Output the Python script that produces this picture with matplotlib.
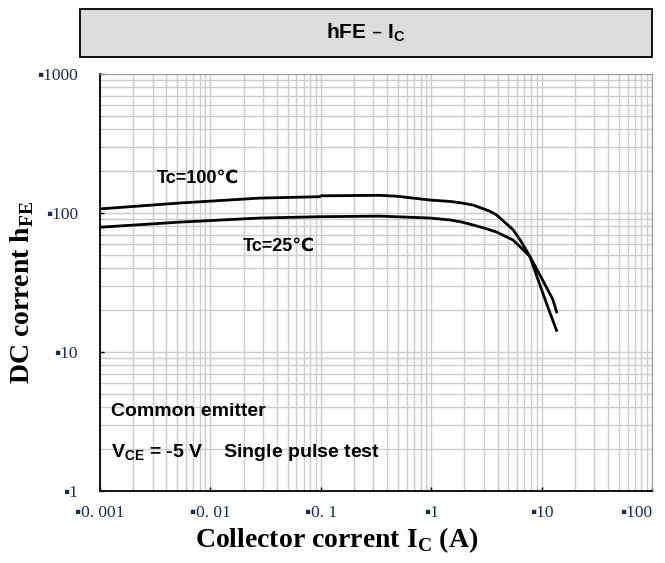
import matplotlib
matplotlib.use("Agg")
import matplotlib.pyplot as plt
from matplotlib.patches import Rectangle
from matplotlib.ticker import FixedLocator, LogLocator, NullFormatter

# data
ic_100 = [0.001, 0.0053, 0.028, 0.098, 0.1, 0.34, 0.49, 0.97, 1.5, 1.9, 2.4, 2.8, 3.4, 3.9, 4.4, 5.5, 6.4, 7.8, 9.3, 11.4, 13.8]
hfe_100 = [107, 118, 128, 131, 133, 134, 132, 124, 121, 118, 114, 109, 103, 97, 89, 76, 64, 49, 33, 21, 14]

ic_25 = [0.001, 0.0053, 0.028, 0.098, 0.34, 0.97, 1.5, 1.9, 2.4, 3.0, 3.9, 5.5, 6.4, 7.8, 10.2, 12.6, 13.8]
hfe_25 = [79, 86, 92, 94, 95, 92, 89, 86, 82, 78, 73, 64, 57, 49, 33, 24, 19]

x_ticks = [0.001, 0.01, 0.1, 1, 10, 100]
x_labels = ["0. 001", "0. 01", "0. 1", "1", "10", "100"]
y_ticks = [1, 10, 100, 1000]
y_labels = ["1", "10", "100", "1000"]

sans = ["Liberation Sans", "DejaVu Sans"]
serif = ["Liberation Serif", "DejaVu Sans"]
tick_col = "#1f2a5a"

fig = plt.figure(figsize=(6.65, 5.63), dpi=100)
ax = fig.add_axes([100 / 665, 1 - 491 / 563, 552 / 665, 417 / 563])

ax.plot(ic_100, hfe_100, color="black", lw=2.0, solid_capstyle="butt")
ax.plot(ic_25, hfe_25, color="black", lw=2.0, solid_capstyle="butt")

ax.set_xscale("log")
ax.set_yscale("log")
ax.set_xlim(0.001, 100)
ax.set_ylim(1, 1000)

ax.xaxis.set_major_locator(FixedLocator(x_ticks))
ax.yaxis.set_major_locator(FixedLocator(y_ticks))
ax.xaxis.set_minor_locator(LogLocator(base=10, subs=range(2, 10), numticks=20))
ax.yaxis.set_minor_locator(LogLocator(base=10, subs=range(2, 10), numticks=20))
ax.xaxis.set_minor_formatter(NullFormatter())
ax.yaxis.set_minor_formatter(NullFormatter())
ax.set_xticklabels(["\u25aa" + s for s in x_labels], family=serif, fontsize=12.5, color=tick_col)
ax.set_yticklabels(["\u25aa" + s for s in y_labels], family=serif, fontsize=12.5, color=tick_col)
ax.tick_params(which="major", direction="in", length=3, width=1, colors="black", labelcolor=tick_col)
ax.tick_params(axis="x", which="major", pad=10)
ax.tick_params(axis="y", which="major", pad=16)
ax.tick_params(which="minor", length=0)
# last x label sits hard against the right edge, shift it in a little
ax.get_xticklabels()[-1].set_horizontalalignment("right")

ax.grid(True, which="both", color="#cccccc", lw=1.0)
ax.set_axisbelow(True)
for side in ["top", "right"]:
    ax.spines[side].set_color("#999999")
for side in ["left", "bottom"]:
    ax.spines[side].set_color("black")
    ax.spines[side].set_linewidth(1.3)

fig.text(337 / 665, 1 - 540 / 563, "Collector corrent I$_\\mathregular{C}$ (A)", family=serif,
         fontweight="bold", fontsize=20, ha="center", va="center")
fig.text(22 / 665, 1 - 292 / 563, "DC corrent h$_\\mathregular{FE}$", family=serif,
         fontweight="bold", fontsize=20, ha="center", va="center", rotation=90)

ax.text(0.00325, 177, "Tc=100\u2103", family=sans, fontweight="bold", fontsize=13, va="center")
ax.text(0.0195, 57.5, "Tc=25\u2103", family=sans, fontweight="bold", fontsize=13, va="center")
ax.text(0.02, 0.19, "Common emitter", transform=ax.transAxes, family=sans,
        fontweight="bold", fontsize=14, va="center")
ax.text(0.02, 0.092, "V$_\\mathregular{CE}$ = -5 V    Single pulse test", transform=ax.transAxes,
        family=sans, fontweight="bold", fontsize=14, va="center")

# title box
fig.patches.append(Rectangle((80 / 665, 1 - 57 / 563), 572 / 665, 48 / 563, transform=fig.transFigure,
                             facecolor="#dcdcdc", edgecolor="black", lw=1.3))
fig.text(366 / 665, 1 - 33 / 563, "hFE \u2013 I$_\\mathregular{C}$", family=sans, fontweight="bold",
         fontsize=15, ha="center", va="center")

# heading cut off by the top edge, only its lowest pixels show
fig.text(125 / 665, 1 + 3.5 / 563, "(Continued)", family=sans, fontweight="bold", fontsize=15,
         ha="left", va="baseline")

fig.savefig("out.png", dpi=100)
